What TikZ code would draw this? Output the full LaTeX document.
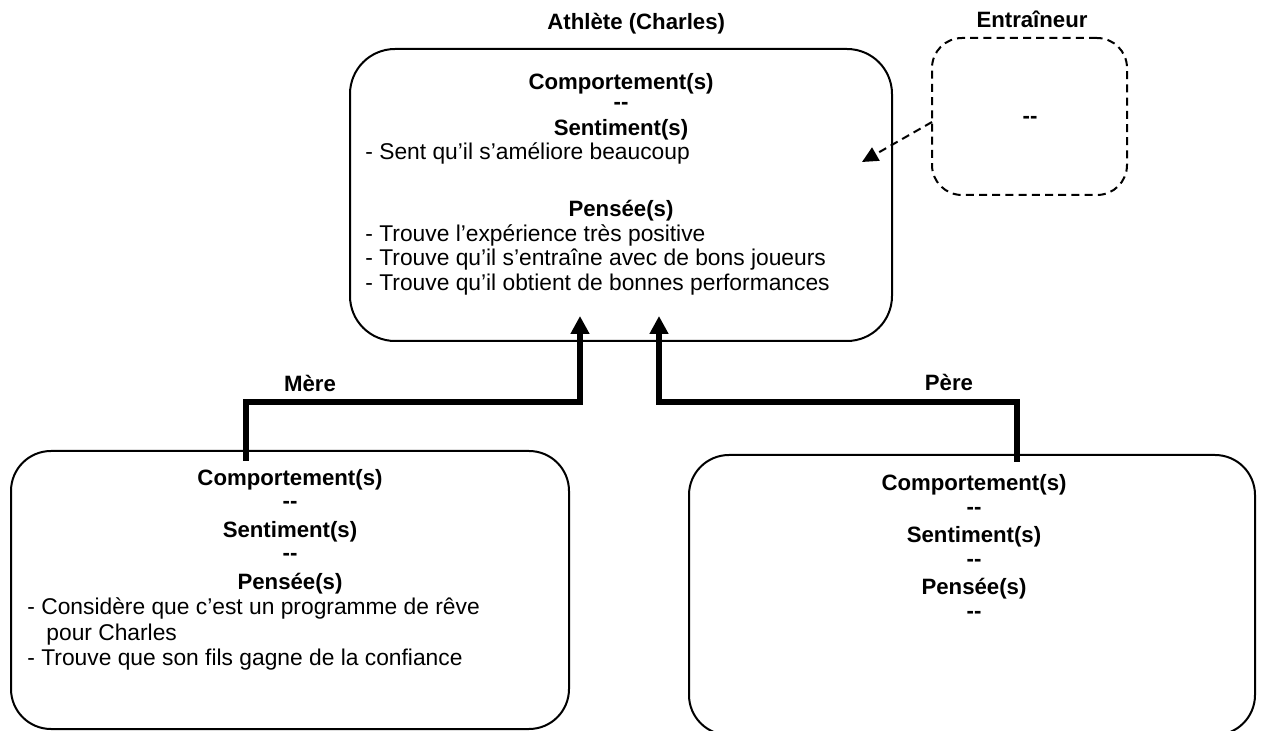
\documentclass[tikz,border=0pt]{standalone}
\usepackage{fontspec}
\setmainfont{Liberation Sans}
\usetikzlibrary{arrows.meta}

\tikzset{
  roundbox/.style={draw, line width=1pt, rectangle, inner sep=0pt, outer sep=0pt},
  dashbox/.style={roundbox, dash pattern=on 4pt off 2.6pt},
  head/.style={font=\fontsize{11.1}{13}\selectfont\bfseries, anchor=base, inner sep=0pt},
  item/.style={font=\fontsize{11.4}{13}\selectfont, anchor=base west, inner sep=0pt},
  conn/.style={line width=2.6pt, -{Triangle[width=9pt,length=9pt]}},
  dasharrow/.style={line width=1pt, dash pattern=on 4pt off 2.6pt, -{Triangle[width=7.5pt,length=8pt]}}
}
% two separate hyphens, not an en dash
\newcommand{\nada}{-{}-}

\begin{document}
\begin{tikzpicture}[x=0.5pt, y=-0.5pt]
\useasboundingbox (0,0) rectangle (1264,731);

% boxes
\node[roundbox, rounded corners=22.5pt, minimum width=271pt, minimum height=146pt] (athlete) at (621,195) {};
\node[dashbox, rounded corners=15pt, minimum width=97.5pt, minimum height=78.5pt] (coach) at (1029.5,116.5) {};
\node[roundbox, rounded corners=20pt, minimum width=279pt, minimum height=139pt] (mother) at (290,590) {};
\node[roundbox, rounded corners=20pt, minimum width=283pt, minimum height=140pt] (father) at (972,595) {};

% box titles
\node[head, anchor=base west] (tAthlete) at (547,30) {Athlète (Charles)};
\node[head] (tCoach) at (1032,28) {Entraîneur};

% athlete contents
\node[head] (a1) at (621,90) {Comportement(s)};
\node[head] (a2) at (621,110) {\nada};
\node[head] (a3) at (621,136) {Sentiment(s)};
\node[item] (a4) at (365,160) {- Sent qu’il s’améliore beaucoup};
\node[head] (a5) at (621,217) {Pensée(s)};
\node[item] (a6) at (365,242) {- Trouve l’expérience très positive};
\node[item] (a7) at (365,266) {- Trouve qu’il s’entraîne avec de bons joueurs};
\node[item] (a8) at (365,291) {- Trouve qu’il obtient de bonnes performances};

% coach contents
\node[head] (c1) at (1030,124) {\nada};

% mother contents
\node[head] (m1) at (290,486) {Comportement(s)};
\node[head] (m2) at (290,509) {\nada};
\node[head] (m3) at (290,538) {Sentiment(s)};
\node[head] (m4) at (290,561) {\nada};
\node[head] (m5) at (290,590) {Pensée(s)};
\node[item] (m6) at (27,615) {- Considère que c’est un programme de rêve};
\node[item] (m7) at (46,641) {pour Charles};
\node[item] (m8) at (27,666) {- Trouve que son fils gagne de la confiance};

% father contents
\node[head] (f1) at (974,491) {Comportement(s)};
\node[head] (f2) at (974,515) {\nada};
\node[head] (f3) at (974,543) {Sentiment(s)};
\node[head] (f4) at (974,567) {\nada};
\node[head] (f5) at (974,595) {Pensée(s)};
\node[head] (f6) at (974,619) {\nada};

% connector labels
\node[head] (lMother) at (310,392) {Mère};
\node[head] (lFather) at (949,391) {Père};

% connectors
\coordinate (mBend) at (580,402);
\coordinate (fBend) at (659,402);
\coordinate (coachTarget) at (862,162);
\draw[conn] ([xshift=-22pt,yshift=-5pt]mother.north) |- (mBend)
  -- ([xshift=-20.5pt,yshift=12.5pt]athlete.south);
\draw[conn] ([xshift=22.5pt,yshift=-3.5pt]father.north) |- (fBend)
  -- ([xshift=19pt,yshift=12.5pt]athlete.south);
\draw[dasharrow] ([yshift=-2.75pt]coach.west) -- (coachTarget);
\end{tikzpicture}
\end{document}
